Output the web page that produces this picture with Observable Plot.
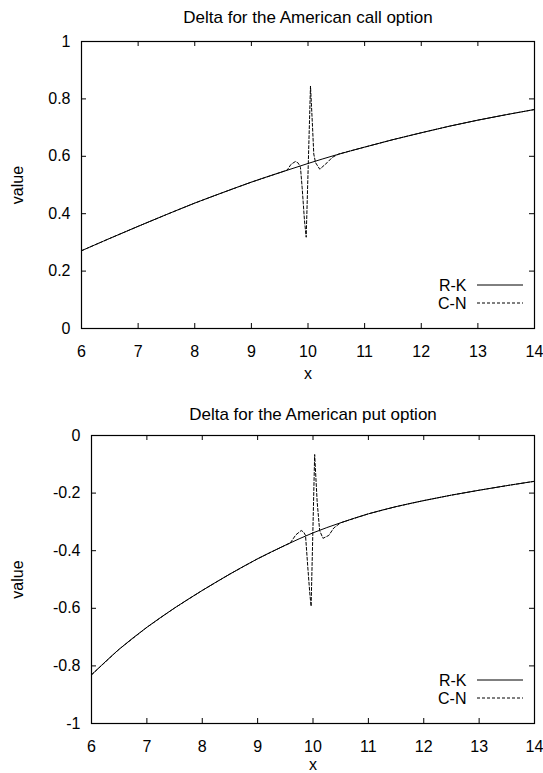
<!DOCTYPE html>
<html>
<head>
<meta charset="utf-8">
<script src="https://cdn.jsdelivr.net/npm/d3@7"></script>
<script src="https://cdn.jsdelivr.net/npm/@observablehq/plot@0.6"></script>
<style>
  html, body { margin: 0; padding: 0; background: #fff; }
  svg { display: block; }
</style>
</head>
<body>
<div id="chart"></div>
<script>
// ---- data ----
const xTicks = [6, 7, 8, 9, 10, 11, 12, 13, 14];
const callYTicks = [0, 0.2, 0.4, 0.6, 0.8, 1];
const callYLabels = ["0", "0.2", "0.4", "0.6", "0.8", "1"];
const putYTicks = [-1, -0.8, -0.6, -0.4, -0.2, 0];
const putYLabels = ["-1", "-0.8", "-0.6", "-0.4", "-0.2", "0"];
const seriesNames = ["R-K", "C-N"];

// Call option delta, R-K
const callRKx = [6, 6.5, 7, 7.5, 8, 8.5, 9, 9.5, 10, 10.5, 11, 11.5, 12, 12.5, 13, 13.5, 14];
const callRKy = [0.271, 0.314, 0.356, 0.397, 0.437, 0.474, 0.510, 0.543, 0.575, 0.605, 0.632, 0.658, 0.682, 0.705, 0.726, 0.745, 0.763];
// Call option delta, C-N
const callCNx = [6, 6.5, 7, 7.5, 8, 8.5, 9, 9.5, 9.633, 9.70, 9.779, 9.83, 9.867, 9.897, 9.938, 9.968, 10.044, 10.075, 10.102, 10.133, 10.208, 10.339, 10.427, 10.544, 11, 11.5, 12, 12.5, 13, 13.5, 14];
const callCNy = [0.271, 0.314, 0.356, 0.397, 0.437, 0.474, 0.510, 0.543, 0.552, 0.572, 0.582, 0.576, 0.561, 0.490, 0.376, 0.318, 0.845, 0.723, 0.608, 0.578, 0.555, 0.578, 0.596, 0.608, 0.632, 0.658, 0.682, 0.705, 0.726, 0.745, 0.763];

// Put option delta, R-K
const putRKx = [6, 6.5, 7, 7.5, 8, 8.5, 9, 9.5, 10, 10.5, 11, 11.5, 12, 12.5, 13, 13.5, 14];
const putRKy = [-0.831, -0.742, -0.666, -0.599, -0.538, -0.481, -0.428, -0.381, -0.338, -0.303, -0.272, -0.247, -0.226, -0.207, -0.190, -0.174, -0.159];
// Put option delta, C-N
const putCNx = [6, 6.5, 7, 7.5, 8, 8.5, 9, 9.5, 9.59, 9.69, 9.787, 9.83, 9.865, 9.906, 9.943, 9.966, 10.03, 10.075, 10.12, 10.18, 10.285, 10.376, 10.5, 11, 11.5, 12, 12.5, 13, 13.5, 14];
const putCNy = [-0.831, -0.742, -0.666, -0.599, -0.538, -0.481, -0.428, -0.381, -0.373, -0.345, -0.330, -0.335, -0.347, -0.457, -0.550, -0.593, -0.066, -0.230, -0.330, -0.357, -0.347, -0.321, -0.303, -0.272, -0.247, -0.226, -0.207, -0.190, -0.174, -0.159];

const FONT = "'Liberation Sans', Arial, Helvetica, sans-serif";

function zip(xs, ys) { return xs.map((x, i) => ({x, y: ys[i]})); }

function makeChart(o) {
  const W = 543, mR = 9;
  const innerW = W - o.marginLeft - mR;
  const innerH = o.height - o.marginTop - o.marginBottom;
  const rk = zip(o.rkx, o.rky);
  const cn = zip(o.cnx, o.cny);
  const chart = Plot.plot({
    width: W,
    height: o.height,
    marginTop: o.marginTop,
    marginRight: mR,
    marginBottom: o.marginBottom,
    marginLeft: o.marginLeft,
    style: {fontFamily: FONT, fontSize: "16px", color: "black", background: "white", overflow: "visible"},
    x: {domain: [6, 14]},
    y: {domain: o.yDomain},
    marks: [
      Plot.axisX({ticks: xTicks, anchor: "bottom", tickSize: 0, tickPadding: 17, label: null, tickFormat: d => String(d), fontSize: 16}),
      Plot.axisY({ticks: o.yTicks, anchor: "left", tickSize: 0, tickPadding: 11, label: null, tickFormat: (d) => o.yLabels[o.yTicks.indexOf(d)], fontSize: 16}),
      Plot.tickX(xTicks, {x: d => d, insetTop: innerH - 5, stroke: "black"}),
      Plot.tickX(xTicks, {x: d => d, insetBottom: innerH - 5, stroke: "black"}),
      Plot.tickY(o.yTicks, {y: d => d, insetLeft: innerW - 5, stroke: "black"}),
      Plot.tickY(o.yTicks, {y: d => d, insetRight: innerW - 5, stroke: "black"}),
      Plot.line(rk, {x: "x", y: "y", stroke: "black", strokeWidth: 1, curve: "catmull-rom"}),
      Plot.line(cn, {x: "x", y: "y", stroke: "black", strokeWidth: 1, strokeDasharray: "3,2"}),
      Plot.frame({stroke: "black", strokeWidth: 1.2}),
      Plot.text([o.title], {frameAnchor: "top", dy: o.titleDy, lineAnchor: "middle", fontSize: 17, fill: "black"}),
      Plot.text(["x"], {frameAnchor: "bottom", dy: o.xLabelDy, lineAnchor: "middle", fontSize: 16, fill: "black"}),
      Plot.text(["value"], {frameAnchor: "left", dx: 17 - o.marginLeft, rotate: -90, lineAnchor: "middle", textAnchor: "middle", fontSize: 16, fill: "black"}),
      Plot.text([seriesNames[0]], {frameAnchor: "bottom-right", dx: -68, dy: -43, textAnchor: "end", lineAnchor: "middle", fontSize: 16, fill: "black"}),
      Plot.text([seriesNames[1]], {frameAnchor: "bottom-right", dx: -68, dy: -25, textAnchor: "end", lineAnchor: "middle", fontSize: 16, fill: "black"})
    ]
  });
  // legend line samples
  const right = W - mR, bottom = o.height - o.marginBottom;
  const g = d3.select(chart).append("g");
  g.append("line").attr("x1", right - 57).attr("x2", right - 11)
    .attr("y1", bottom - 43).attr("y2", bottom - 43)
    .attr("stroke", "black").attr("stroke-width", 1);
  g.append("line").attr("x1", right - 57).attr("x2", right - 11)
    .attr("y1", bottom - 25).attr("y2", bottom - 25)
    .attr("stroke", "black").attr("stroke-width", 1).attr("stroke-dasharray", "3,2");
  return chart;
}

const root = document.getElementById("chart");
root.appendChild(makeChart({
  title: "Delta for the American call option",
  height: 386, marginTop: 41, marginBottom: 58, marginLeft: 81, titleDy: -24, xLabelDy: 45,
  yDomain: [0, 1], yTicks: callYTicks, yLabels: callYLabels,
  rkx: callRKx, rky: callRKy, cnx: callCNx, cny: callCNy
}));
root.appendChild(makeChart({
  title: "Delta for the American put option",
  height: 387, marginTop: 49, marginBottom: 50, marginLeft: 91, titleDy: -21, xLabelDy: 41,
  yDomain: [-1, 0], yTicks: putYTicks, yLabels: putYLabels,
  rkx: putRKx, rky: putRKy, cnx: putCNx, cny: putCNy
}));
</script>
</body>
</html>
